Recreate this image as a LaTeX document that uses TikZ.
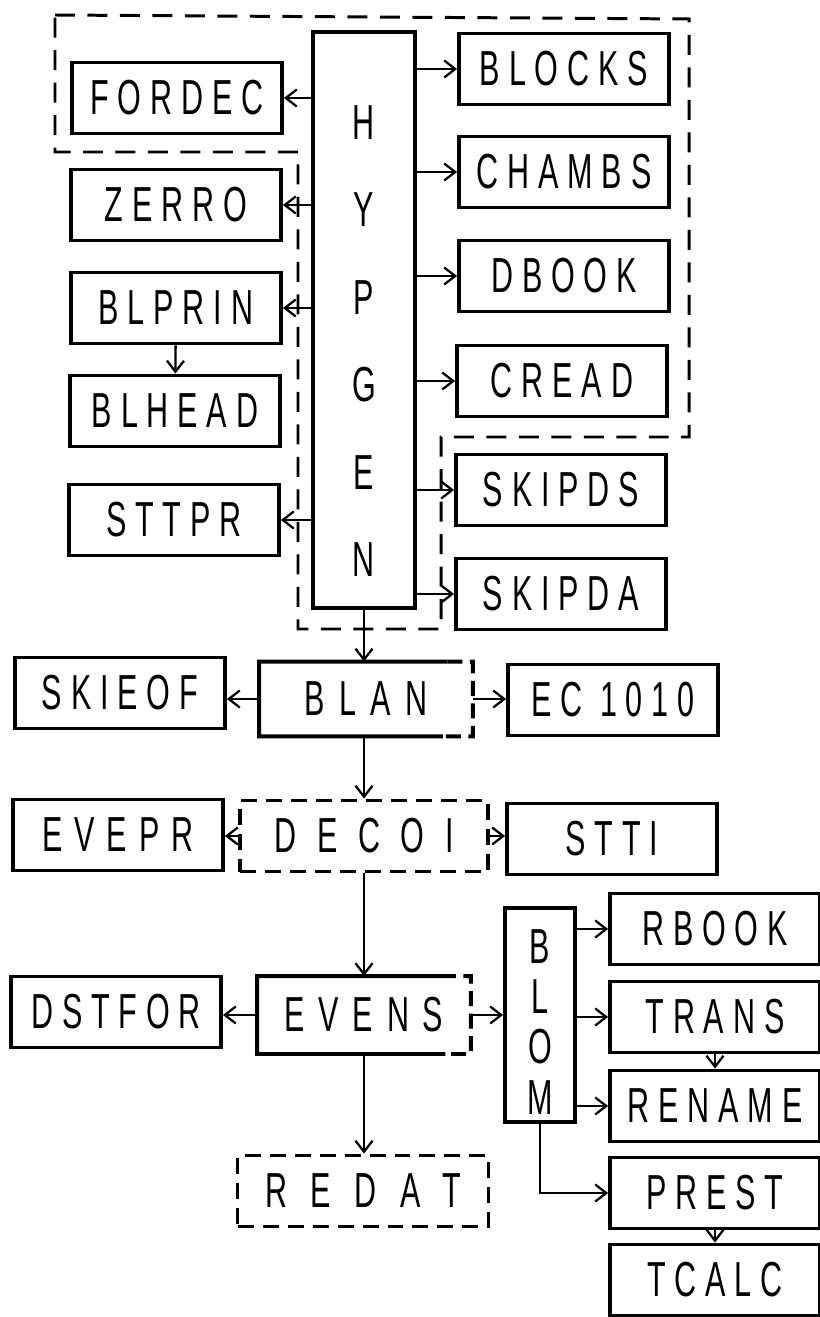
\documentclass[tikz,border=0pt]{standalone}
\usepackage{fontspec}
\newfontfamily\boxfont[FakeStretch=0.62,LetterSpace=18]{Liberation Sans}
\usetikzlibrary{positioning, arrows.meta, calc}

\begin{document}
\begin{tikzpicture}[
        x=0.02cm, y=-0.02cm,
        font=\boxfont\fontsize{28}{30}\selectfont,
        prog/.style={draw, line width=2.2pt, minimum width=4.2cm, minimum height=1.42cm, inner sep=0pt},
        wide/.style={font=\boxfont\fontsize{28}{30}\selectfont\addfontfeature{LetterSpace=#1}},
        wide/.default=30,
        dashbox/.style={prog, dash pattern=on 0.32cm off 0.18cm},
        vbox/.style={draw, line width=2.2pt, inner sep=0pt},
        vtext/.style={align=center, inner sep=0pt},
        arr/.style={-{Straight Barb[length=2.2mm,width=3.4mm]}, line width=1.3pt},
        frame/.style={line width=1.7pt, dash pattern=on 0.4cm off 0.25cm},
    ]
    \useasboundingbox (0,0) rectangle (819,1317);

    % HYPGEN and its group
    \node[vbox, minimum width=2.04cm, minimum height=11.52cm] (hypgen) at (364,320) {};
    \node[vtext, font=\boxfont\fontsize{28}{49.8}\selectfont] (hypgentxt) at (364,341) {H\\Y\\P\\G\\E\\N};
    \draw[frame] (55,15) -- (689,19) -- (689,437) -- (441,437) -- (441,629)
        -- (298,629) -- (298,152) -- (55,152) -- cycle;

    % left column
    \node[prog] (fordec) at (177,98) {FORDEC};
    \node[prog] (zerro) at (176,205) {ZERRO};
    \node[prog] (blprin) at (176,308) {BLPRIN};
    \node[prog] (blhead) at (175,411) {BLHEAD};
    \node[prog] (sttpr) at (174,520) {STTPR};

    % right column
    \node[prog] (blocks) at (564,69) {BLOCKS};
    \node[prog] (chambs) at (564,172) {CHAMBS};
    \node[prog] (dbook) at (564,276) {DBOOK};
    \node[prog] (cread) at (562,381) {CREAD};
    \node[prog] (skipds) at (561,490) {SKIPDS};
    \node[prog] (skipda) at (561,594) {SKIPDA};

    \foreach \n in {fordec, zerro, blprin, sttpr}
        \draw[arr] (hypgen.west |- \n) -- (\n);
    \foreach \n in {blocks, chambs, dbook, cread, skipds, skipda}
        \draw[arr] (hypgen.east |- \n) -- (\n);
    \draw[arr] (blprin) -- (blhead);

    % BLAN row
    \node[prog, draw=none, wide=30] (blan) at (366,699) {BLAN};
    \node[prog] (skieof) at (120,693) {SKIEOF};
    \node[prog] (ec1010) at (613,700) {EC 1010};
    \draw[line width=2.2pt] ($(blan.north west)!0.88!(blan.north east)$) -- (blan.north west)
        -- (blan.south west) -- ($(blan.south west)!0.86!(blan.south east)$);
    \draw[line width=2.2pt, dash pattern=on 0.3cm off 0.15cm] ($(blan.north west)!0.88!(blan.north east)$)
        -- (blan.north east) -- (blan.south east) -- ($(blan.south west)!0.86!(blan.south east)$);
    \draw[arr] (hypgen.south) -- (hypgen.south |- blan.north);
    \draw[arr] (blan.west) -- (blan.west -| skieof.east);
    \draw[arr] (blan.east) -- (blan.east -| ec1010.west);

    % DECOI row
    \node[dashbox, minimum width=4.96cm, wide=42] (decoi) at (364,836) {DECOI};
    \node[prog, wide=24] (evepr) at (118,835) {EVEPR};
    \node[prog] (stti) at (612,839) {STTI};
    \draw[arr] (blan.south -| decoi.north) -- (decoi.north);
    \draw[arr] (decoi.west) -- (decoi.west -| evepr.east);
    \draw[arr] (decoi.east) -- (decoi.east -| stti.west);

    % EVENS row
    \node[prog, draw=none, minimum height=1.48cm, wide=28] (evens) at (364,1015) {EVENS};
    \node[prog] (dstfor) at (116,1012) {DSTFOR};
    \node[dashbox, minimum width=5.02cm, wide=48] (redat) at (363,1191) {REDAT};
    \draw[line width=2.2pt] ($(evens.north west)!0.86!(evens.north east)$) -- (evens.north west)
        -- (evens.south west) -- ($(evens.south west)!0.88!(evens.south east)$);
    \draw[line width=2.2pt, dash pattern=on 0.3cm off 0.15cm] ($(evens.north west)!0.86!(evens.north east)$)
        -- (evens.north east) -- (evens.south east) -- ($(evens.south west)!0.88!(evens.south east)$);
    \draw[arr] (decoi.south) -- (decoi.south |- evens.north);
    \draw[arr] (evens.west) -- (evens.west -| dstfor.east);
    \draw[arr] (evens.south) -- (evens.south |- redat.north);

    % BLOM and its calls
    \node[vbox, minimum width=1.4cm, minimum height=4.28cm] (blom) at (540,1015) {};
    \node[vtext, font=\boxfont\fontsize{28}{28.5}\selectfont] (blomtxt) at (540,1022) {B\\L\\O\\M};
    \node[prog] (rbook) at (715,929) {RBOOK};
    \node[prog] (trans) at (715,1017) {TRANS};
    \node[prog] (rename) at (715,1106) {RENAME};
    \node[prog] (prest) at (715,1193) {PREST};
    \node[prog] (tcalc) at (715,1280) {TCALC};
    \draw[arr] (evens.east) -- (evens.east -| blom.west);
    \foreach \n in {rbook, trans, rename}
        \draw[arr] (blom.east |- \n) -- (\n);
    \draw[arr] (blom.south) |- (prest);
    \draw[arr] (trans) -- (rename);
    \draw[arr] (prest) -- (tcalc);
\end{tikzpicture}
\end{document}
